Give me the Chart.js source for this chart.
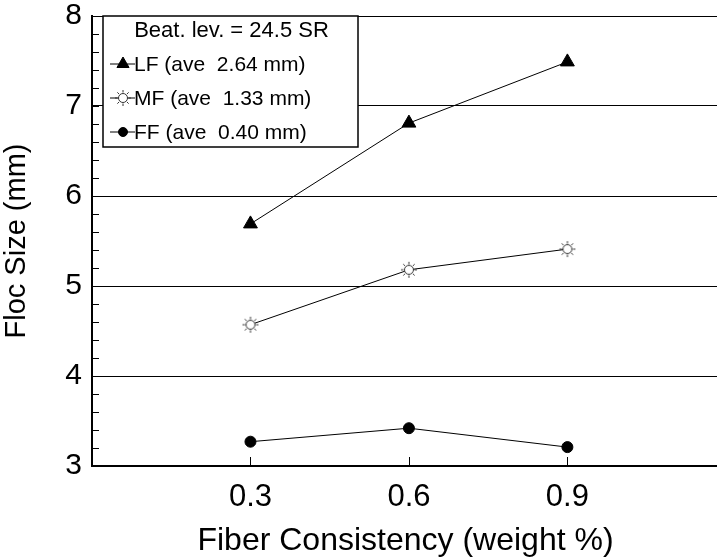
<!DOCTYPE html>
<html>
<head>
<meta charset="utf-8">
<script src="https://cdn.jsdelivr.net/npm/chart.js@4.4.1/dist/chart.umd.min.js"></script>
<style>
  html, body { margin:0; padding:0; background:#fff; overflow:hidden; }
  #wrap { width:717px; height:560px; overflow:hidden; }
</style>
</head>
<body>
<div id="wrap"><canvas id="c" width="728" height="560"></canvas></div>
<script>
// fiber consistency (weight %)
const CONSISTENCY = [0.3, 0.6, 0.9];
// floc size (mm) per fiber fraction
const LF = [5.69, 6.81, 7.49];
const MF = [4.57, 5.18, 5.41];
const FF = [3.27, 3.42, 3.21];
const LABELS = ["LF (ave  2.64 mm)", "MF (ave  1.33 mm)", "FF (ave  0.40 mm)"];
const LEGEND_TITLE = "Beat. lev. = 24.5 SR";
const X_TICKS = [0.3, 0.6, 0.9];
const Y_MIN = 3, Y_MAX = 8;

const FONT = "'Liberation Sans', Arial, Helvetica, sans-serif";

// sun-like marker for MF
function sunMarker() {
  const cv = document.createElement("canvas");
  cv.width = 18; cv.height = 18;
  const g = cv.getContext("2d");
  g.strokeStyle = "#333";
  g.fillStyle = "#fff";
  g.lineWidth = 1;
  g.beginPath(); g.arc(9, 9, 4.5, 0, Math.PI*2); g.fill(); g.stroke();
  for (let i=0;i<8;i++) {
    const a = i*Math.PI/4;
    g.beginPath();
    g.moveTo(9+Math.cos(a)*5.5, 9+Math.sin(a)*5.5);
    g.lineTo(9+Math.cos(a)*8, 9+Math.sin(a)*8);
    g.stroke();
  }
  return cv;
}
const SUN = sunMarker();

const toPts = ys => ys.map((y,i)=>({x: CONSISTENCY[i], y}));

const STYLES = [
  { pointStyle: "triangle", radius: 8, bg: "#000" },
  { pointStyle: SUN, radius: 8, bg: "#fff" },
  { pointStyle: "circle", radius: 5.5, bg: "#000" }
];

// inner tick marks + legend box
const extras = {
  id: "extras",
  afterDraw(chart) {
    const ctx = chart.ctx, ca = chart.chartArea;
    const xs = chart.scales.x, ys = chart.scales.y;
    ctx.save();
    ctx.strokeStyle = "#000";
    ctx.lineWidth = 1;
    // minor y ticks every 0.2
    for (let v = Y_MIN; v <= Y_MAX + 1e-6; v += 0.2) {
      const p = Math.round(ys.getPixelForValue(v)) + 0.5;
      ctx.beginPath(); ctx.moveTo(ca.left, p); ctx.lineTo(ca.left + 7, p); ctx.stroke();
    }
    // x ticks pointing inward
    X_TICKS.forEach(v => {
      const p = Math.round(xs.getPixelForValue(v)) + 0.5;
      ctx.beginPath(); ctx.moveTo(p, ca.bottom); ctx.lineTo(p, ca.bottom - 9); ctx.stroke();
    });

    // legend box
    const bx = 103, by = 16, bw = 255, bh = 131;
    ctx.fillStyle = "#fff";
    ctx.fillRect(bx, by, bw, bh);
    ctx.lineWidth = 1.5;
    ctx.strokeRect(bx, by, bw, bh);
    ctx.fillStyle = "#000";
    ctx.textBaseline = "middle";
    ctx.textAlign = "center";
    ctx.font = "22px " + FONT;
    ctx.fillText(LEGEND_TITLE, bx + bw/2 + 1, 31);
    ctx.font = "21px " + FONT;
    ctx.textAlign = "left";
    const rows = [64, 98, 132];
    chart.data.datasets.forEach((ds, i) => {
      const y = rows[i];
      ctx.lineWidth = 1;
      ctx.strokeStyle = "#000";
      ctx.beginPath(); ctx.moveTo(110, y); ctx.lineTo(135, y); ctx.stroke();
      ctx.fillStyle = STYLES[i].bg;
      Chart.helpers.drawPoint(ctx, {
        pointStyle: STYLES[i].pointStyle, radius: STYLES[i].radius - 1, borderWidth: 1, rotation: 0
      }, 123, y);
      ctx.fillStyle = "#000";
      ctx.fillText(LABELS[i], 134, y + 1);
    });
    ctx.restore();
  }
};

new Chart(document.getElementById("c"), {
  type: "line",
  data: {
    datasets: [LF, MF, FF].map((d, i) => ({
      label: LABELS[i],
      data: toPts(d),
      borderColor: "#000",
      borderWidth: 1,
      backgroundColor: STYLES[i].bg,
      pointStyle: STYLES[i].pointStyle,
      pointRadius: STYLES[i].radius,
      pointBorderColor: "#000",
      pointBackgroundColor: STYLES[i].bg,
      pointBorderWidth: 1,
      tension: 0,
      clip: false
    }))
  },
  options: {
    responsive: false,
    animation: false,
    layout: { padding: { top: 16, right: 0, left: 0, bottom: 0 } },
    plugins: { legend: { display: false }, tooltip: { enabled: false } },
    scales: {
      x: {
        type: "linear",
        min: 0,
        max: 1.187,
        afterBuildTicks: s => { s.ticks = X_TICKS.map(v => ({ value: v })); },
        afterFit: s => { s.height = 94; s.paddingLeft = 0; s.paddingRight = 0; },
        grid: { display: false, drawTicks: false },
        border: { color: "#000", width: 2 },
        ticks: {
          color: "#000",
          padding: 13,
          font: { family: FONT, size: 31 },
          callback: v => v.toFixed(1)
        },
        title: {
          display: true,
          text: "Fiber Consistency (weight %)",
          color: "#000",
          font: { family: FONT, size: 32 },
          padding: { top: 0, bottom: 0 }
        }
      },
      y: {
        min: Y_MIN,
        max: Y_MAX,
        afterFit: s => { s.width = 92; s.paddingTop = 0; s.paddingBottom = 0; },
        grid: {
          color: "#000",
          lineWidth: 1,
          drawTicks: false
        },
        border: { color: "#000", width: 2 },
        ticks: {
          stepSize: 1,
          color: "#000",
          padding: 10,
          font: { family: FONT, size: 30 }
        },
        title: {
          display: true,
          text: "Floc Size (mm)",
          color: "#000",
          font: { family: FONT, size: 29 },
          padding: { top: 0, bottom: 4 }
        }
      }
    }
  },
  plugins: [extras]
});
</script>
</body>
</html>
